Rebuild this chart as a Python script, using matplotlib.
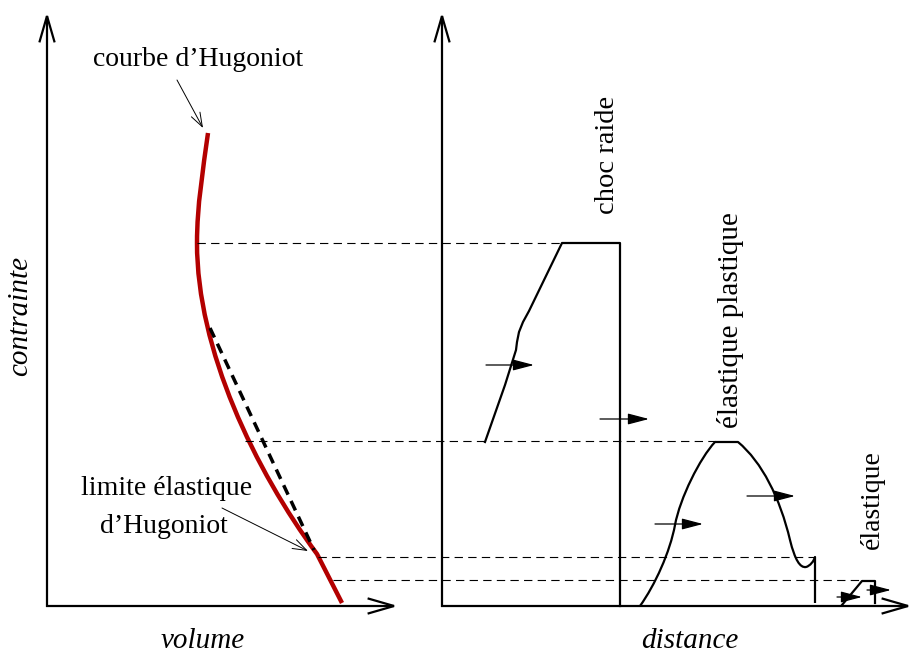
import matplotlib
matplotlib.use("Agg")
import matplotlib.pyplot as plt
from matplotlib.patches import FancyArrowPatch, PathPatch
from matplotlib.path import Path

plt.rcParams['lines.scale_dashes'] = False
SERIF = ['Liberation Serif', 'DejaVu Serif']

# ---- diagram data (drawing coordinates, y grows downward) ----
# Hugoniot curve as cubic Bezier pieces: start point, then (c1, c2, end) triplets, then a straight tail
hug_start = (208, 133)
hug_curves = [((203, 170), (197, 205), (197, 243)),
              ((197, 350), (255, 470), (317, 554))]
hug_tail = (342, 603)

rayleigh_x = [210, 314]
rayleigh_y = [328, 550]

choc_x = [485, 505, 516, 517, 519, 523, 529, 545, 562, 620, 620]
choc_y = [442, 385, 350, 342, 332, 322, 311, 278, 243, 243, 606]

# elastic-plastic wave as Bezier pieces
ep_start = (640, 606)
ep_curves = [((655, 585), (670, 552), (675, 525)),
             ((680, 498), (700, 458), (715, 442)),
             ((738, 442), (738, 442), (738, 442)),
             ((762, 462), (780, 498), (790, 540)),
             ((795, 560), (800, 568), (806, 567)),
             ((810, 566), (814, 561), (815, 557))]
ep_drop = (815, 603)

el_x = [842, 862, 875, 875]
el_y = [605, 581, 581, 603]

# horizontal dashed guides
guide_y = [243, 441, 557, 580]
guide_x0 = [197, 245, 318, 333]
guide_x1 = [562, 715, 814, 862]

# propagation arrows
prop_x0 = [486, 600, 655, 747, 837, 867]
prop_x1 = [534, 649, 703, 795, 862, 891]
prop_y = [365, 419, 524, 496, 597, 590]

DARKRED = '#b30000'

fig = plt.figure(figsize=(9.14, 6.53), dpi=100)
ax = fig.add_axes([0, 0, 1, 1])
ax.set_xlim(0, 914)
ax.set_ylim(653, 0)
ax.axis('off')


def bezier_path(start, curves, extra_lines):
    verts = [start]
    codes = [Path.MOVETO]
    for c1, c2, end in curves:
        verts += [c1, c2, end]
        codes += [Path.CURVE4] * 3
    for p in extra_lines:
        verts.append(p)
        codes.append(Path.LINETO)
    return Path(verts, codes)


def axis_arrow(p0, p1):
    ax.add_patch(FancyArrowPatch(p0, p1, arrowstyle='->,head_length=19,head_width=5.5',
                                 mutation_scale=1, lw=1.6, color='black',
                                 shrinkA=0, shrinkB=0, joinstyle='miter', capstyle='butt'))


axis_arrow((47, 607), (47, 12))
axis_arrow((46, 606), (398, 606))
axis_arrow((442, 607), (442, 12))
axis_arrow((441, 606), (912, 606))

# dashed guide lines
for y, xa, xb in zip(guide_y, guide_x0, guide_x1):
    ax.plot([xa, xb], [y, y], color='black', lw=0.8, dashes=(6, 3.8))

# Hugoniot curve and dashed Rayleigh line
ax.add_patch(PathPatch(bezier_path(hug_start, hug_curves, [hug_tail]), facecolor='none',
                       edgecolor=DARKRED, lw=3.2, capstyle='butt', joinstyle='round'))
ax.plot(rayleigh_x, rayleigh_y, color='black', lw=2.5, dashes=(7.5, 5))

# wave profiles
ax.plot(choc_x, choc_y, color='black', lw=1.6, solid_joinstyle='round')
ax.add_patch(PathPatch(bezier_path(ep_start, ep_curves, [ep_drop]), facecolor='none',
                       edgecolor='black', lw=1.6, joinstyle='round'))
ax.plot(el_x, el_y, color='black', lw=1.6, solid_joinstyle='round')

# propagation arrows
for x0, x1, y in zip(prop_x0, prop_x1, prop_y):
    ax.add_patch(FancyArrowPatch((x0, y), (x1, y), arrowstyle='-|>,head_length=13,head_width=3.4',
                                 mutation_scale=1, lw=0.9, color='black', shrinkA=0, shrinkB=0))

# annotation arrows
for p0, p1 in [((177, 80), (203, 128)), ((222, 508), (308, 551))]:
    ax.add_patch(FancyArrowPatch(p0, p1, arrowstyle='->,head_length=10,head_width=3.5',
                                 mutation_scale=1, lw=0.7, color='black', shrinkA=0, shrinkB=0))

# texts
ax.text(198, 66, "courbe d’Hugoniot", fontsize=20, family=SERIF, ha='center', va='baseline')
ax.text(167, 495, "limite élastique", fontsize=20, family=SERIF, ha='center', va='baseline')
ax.text(164, 533, "d’Hugoniot", fontsize=20, family=SERIF, ha='center', va='baseline')
ax.text(203, 648, "volume", fontsize=21, family=SERIF, style='italic', ha='center', va='baseline')
ax.text(690, 648, "distance", fontsize=21, family=SERIF, style='italic', ha='center', va='baseline')
ax.text(20, 316, "contrainte", fontsize=21, family=SERIF, style='italic', rotation=90,
        ha='center', va='center')
ax.text(607, 155, "choc raide", fontsize=20.5, family=SERIF, rotation=90, ha='center', va='center')
ax.text(731, 320, "élastique plastique", fontsize=21, family=SERIF, rotation=90, ha='center', va='center')
ax.text(872, 500, "élastique", fontsize=20, family=SERIF, rotation=90, ha='center', va='center')

fig.savefig('out.png', dpi=100)
